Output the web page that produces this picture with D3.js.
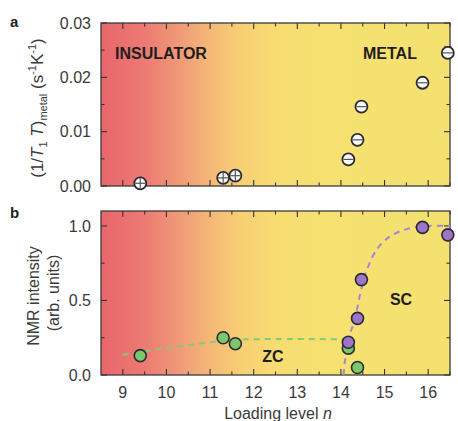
<!DOCTYPE html>
<html><head><meta charset="utf-8">
<script src="https://cdn.jsdelivr.net/npm/d3@7"></script>
<style>body{margin:0;background:#fff}svg{display:block;font-family:"Liberation Sans",Arial,sans-serif}</style>
</head><body>
<svg id="c" width="458" height="421"></svg>
<script>
// ---------- data ----------
const xTicks = [9, 10, 11, 12, 13, 14, 15, 16];
const aTicks = [0, 0.01, 0.02, 0.03];
const bTicks = [0, 0.5, 1.0];
// panel a : (1/T1T)metal
const metalN   = [9.4, 11.3, 11.58, 14.17, 14.38, 14.47, 15.87, 16.45];
const metalVal = [0.0005, 0.0015, 0.0019, 0.0049, 0.0085, 0.0146, 0.0190, 0.0245];
const metalErr = [0.0004, 0.0004, 0.0004, 0.0003, 0.0003, 0.0003, 0.0003, 0.0011];
// panel b : NMR intensity
const zcN   = [9.4, 11.3, 11.58, 14.17, 14.38];
const zcVal = [0.13, 0.25, 0.21, 0.18, 0.05];
const scN   = [14.17, 14.38, 14.47, 15.87, 16.45];
const scVal = [0.22, 0.38, 0.64, 0.99, 0.94];
// dashed guide curves
const zcGuideN   = [9.0, 9.5, 10.0, 10.5, 11.0, 11.5, 12.0, 13.0, 14.0, 14.15];
const zcGuideVal = [0.135, 0.16, 0.18, 0.2, 0.22, 0.235, 0.24, 0.242, 0.24, 0.24];
const scGuideN   = [14.06, 14.09, 14.19, 14.34, 14.45, 14.6, 14.84, 15.13, 15.52, 16.0, 16.5];
const scGuideVal = [0.0, 0.09, 0.25, 0.40, 0.555, 0.71, 0.85, 0.93, 0.98, 1.0, 1.0];

// ---------- layout ----------
const svg = d3.select("#c");
const L = 101, R = 450;
const aTop = 23, aBot = 186, bTop = 211, bBot = 375;
const x = d3.scaleLinear().domain([8.5, 16.5]).range([L, R]);
const ya = d3.scaleLinear().domain([0, 0.03]).range([aBot, aTop]);
const yb = d3.scaleLinear().domain([0, 1.1]).range([bBot, bTop]);

// gradient
const defs = svg.append("defs");
const grad = defs.append("linearGradient").attr("id", "bg")
  .attr("gradientUnits", "userSpaceOnUse")
  .attr("x1", L).attr("x2", R).attr("y1", 0).attr("y2", 0);
const stops = [
  [8.5, "#e9666c"], [9.5, "#ec7a73"], [10.3, "#f09a78"], [11.0, "#f5b877"],
  [11.7, "#f7cf74"], [12.5, "#f8dc72"], [13.5, "#f6e171"], [16.5, "#f4e170"]
];
stops.forEach(s => grad.append("stop").attr("offset", (x(s[0]) - L) / (R - L)).attr("stop-color", s[1]));

function panel(y, top, bot, yt, fmt) {
  const g = svg.append("g");
  g.append("rect").attr("x", L).attr("y", top).attr("width", R - L).attr("height", bot - top).attr("fill", "url(#bg)");
  const major = 6, minor = 3.5;
  const xMinor = d3.range(9, 16.6, 0.5);
  const col = "#333";
  xMinor.forEach(v => {
    const len = Number.isInteger(v) ? major : minor;
    g.append("line").attr("x1", x(v)).attr("x2", x(v)).attr("y1", bot).attr("y2", bot - len).attr("stroke", col).attr("stroke-width", 1.1);
    g.append("line").attr("x1", x(v)).attr("x2", x(v)).attr("y1", top).attr("y2", top + len).attr("stroke", col).attr("stroke-width", 1.1);
  });
  const d = y.domain();
  const step = (yt[1] - yt[0]) / 2;
  const yMinor = d3.range(0, d[1] + 1e-9, step);
  yMinor.forEach((v, i) => {
    const len = i % 2 === 0 ? major : minor;
    g.append("line").attr("x1", L).attr("x2", L + len).attr("y1", y(v)).attr("y2", y(v)).attr("stroke", col).attr("stroke-width", 1.1);
    g.append("line").attr("x1", R).attr("x2", R - len).attr("y1", y(v)).attr("y2", y(v)).attr("stroke", col).attr("stroke-width", 1.1);
  });
  g.append("rect").attr("x", L).attr("y", top).attr("width", R - L).attr("height", bot - top)
    .attr("fill", "none").attr("stroke", "#3a3a3a").attr("stroke-width", 1.3);
  yt.forEach(v => {
    g.append("text").attr("x", 91).attr("y", y(v)).attr("dy", "0.36em").attr("text-anchor", "end")
      .attr("font-size", 16).attr("fill", "#3a3a3a").text(fmt(v));
  });
  return g;
}

const ga = panel(ya, aTop, aBot, aTicks, d3.format(".2f"));
const gb = panel(yb, bTop, bBot, bTicks, d3.format(".1f"));

// x tick labels (bottom panel)
xTicks.forEach(v => {
  svg.append("text").attr("x", x(v)).attr("y", 398).attr("text-anchor", "middle")
    .attr("font-size", 16).attr("fill", "#3a3a3a").text(v);
});
const xl = svg.append("text").attr("x", 278).attr("y", 419).attr("text-anchor", "middle")
  .attr("font-size", 16).attr("fill", "#3a3a3a");
xl.append("tspan").text("Loading level ");
xl.append("tspan").attr("font-style", "italic").text("n");

// panel labels
svg.append("text").attr("x", 10).attr("y", 27).attr("font-size", 15).attr("font-weight", "bold").attr("fill", "#222").text("a");
svg.append("text").attr("x", 10).attr("y", 218).attr("font-size", 15).attr("font-weight", "bold").attr("fill", "#222").text("b");

// y title a
const yta = svg.append("text").attr("transform", "translate(43,108) rotate(-90)").attr("text-anchor", "middle")
  .attr("font-size", 17).attr("fill", "#3a3a3a");
yta.append("tspan").text("(1/");
yta.append("tspan").attr("font-style", "italic").text("T");
yta.append("tspan").attr("font-size", 11).attr("dy", 4).text("1");
yta.append("tspan").attr("font-style", "italic").attr("dy", -4).text(" T");
yta.append("tspan").text(")");
yta.append("tspan").attr("font-size", 11).attr("dy", 4).text("metal");
yta.append("tspan").attr("dy", -4).text(" (s");
yta.append("tspan").attr("font-size", 11).attr("dy", -7).text("-1");
yta.append("tspan").attr("dy", 7).text("K");
yta.append("tspan").attr("font-size", 11).attr("dy", -7).text("-1");
yta.append("tspan").attr("dy", 7).text(")");

// y title b
svg.append("text").attr("transform", "translate(39,296) rotate(-90)").attr("text-anchor", "middle")
  .attr("font-size", 16).attr("fill", "#3a3a3a").text("NMR intensity");
svg.append("text").attr("transform", "translate(59,293) rotate(-90)").attr("text-anchor", "middle")
  .attr("font-size", 16).attr("fill", "#3a3a3a").text("(arb. units)");

// region labels
const lab = (t, cx, cy) => svg.append("text").attr("x", cx).attr("y", cy).attr("dy", "0.36em").attr("text-anchor", "middle")
  .attr("font-size", 16).attr("font-weight", "bold").attr("fill", "#1e1e1e").text(t);
lab("INSULATOR", 161, 53);
lab("METAL", 390, 53);
lab("SC", 401, 299);
lab("ZC", 273, 356);

// panel a markers
const ma = ga.selectAll("g.m").data(metalN.map((n, i) => ({ n, v: metalVal[i], e: metalErr[i] }))).enter().append("g");
ma.append("line").attr("x1", d => x(d.n)).attr("x2", d => x(d.n))
  .attr("y1", d => ya(d.v + d.e)).attr("y2", d => ya(d.v - d.e)).attr("stroke", "#333").attr("stroke-width", 1);
ma.append("line").attr("x1", d => x(d.n) - 4).attr("x2", d => x(d.n) + 4)
  .attr("y1", d => ya(d.v + d.e)).attr("y2", d => ya(d.v + d.e)).attr("stroke", "#333").attr("stroke-width", 1);
ma.append("circle").attr("cx", d => x(d.n)).attr("cy", d => ya(d.v)).attr("r", 6)
  .attr("fill", "#fbfbfb").attr("stroke", "#2b2b33").attr("stroke-width", 1.8);
ma.append("line").attr("x1", d => x(d.n) - 5).attr("x2", d => x(d.n) + 5)
  .attr("y1", d => ya(d.v)).attr("y2", d => ya(d.v)).attr("stroke", "#555").attr("stroke-width", 1.2);
ma.filter((d, i) => i < 3).append("line").attr("x1", d => x(d.n)).attr("x2", d => x(d.n))
  .attr("y1", d => ya(d.v) - 5).attr("y2", d => ya(d.v) + 5).attr("stroke", "#555").attr("stroke-width", 1.2);

// panel b guide curves
const lineB = d3.line().x(d => x(d[0])).y(d => yb(d[1])).curve(d3.curveMonotoneX);
gb.append("path").attr("d", lineB(zcGuideN.map((n, i) => [n, zcGuideVal[i]])))
  .attr("fill", "none").attr("stroke", "#7fcf72").attr("stroke-width", 2).attr("stroke-dasharray", "6,5");
const lineS = d3.line().x(d => x(d[0])).y(d => yb(d[1])).curve(d3.curveCatmullRom);
gb.append("path").attr("d", lineS(scGuideN.map((n, i) => [n, scGuideVal[i]])))
  .attr("fill", "none").attr("stroke", "#a883d6").attr("stroke-width", 2).attr("stroke-dasharray", "6,5");

// panel b markers
gb.selectAll("circle.zc").data(zcN.map((n, i) => [n, zcVal[i]])).enter().append("circle")
  .attr("cx", d => x(d[0])).attr("cy", d => yb(d[1])).attr("r", 6)
  .attr("fill", "#7cc66b").attr("stroke", "#2b2b33").attr("stroke-width", 1.6);
gb.selectAll("circle.sc").data(scN.map((n, i) => [n, scVal[i]])).enter().append("circle")
  .attr("cx", d => x(d[0])).attr("cy", d => yb(d[1])).attr("r", 6)
  .attr("fill", "#9c74c9").attr("stroke", "#2b2b33").attr("stroke-width", 1.6);
</script>
</body></html>
